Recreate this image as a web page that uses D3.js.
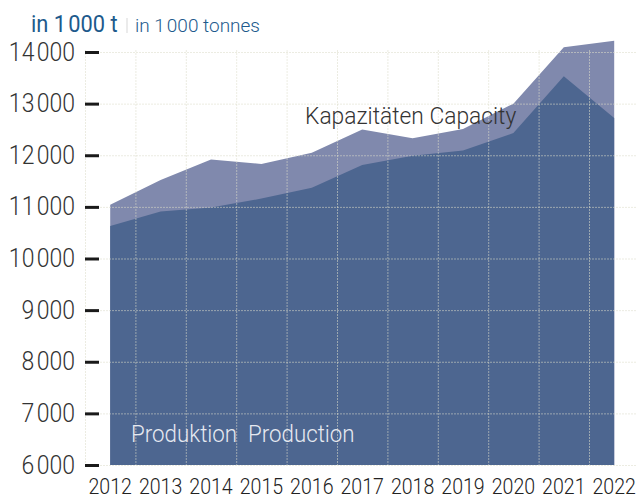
<!DOCTYPE html>
<html>
<head>
<meta charset="utf-8">
<script src="https://cdn.jsdelivr.net/npm/d3@7"></script>
<style>
  html, body { margin: 0; padding: 0; background: #fff; }
  svg { display: block; font-family: Roboto, "Noto Sans", sans-serif; }
</style>
</head>
<body>
<svg id="chart" width="636" height="499"></svg>
<script>
const years = ["2012","2013","2014","2015","2016","2017","2018","2019","2020","2021","2022"];
const capacity   = [11040, 11520, 11920, 11830, 12050, 12500, 12330, 12510, 13000, 14090, 14220];
const production = [10630, 10910, 10990, 11160, 11370, 11810, 11990, 12090, 12430, 13530, 12720];
const yTicks = [6000, 7000, 8000, 9000, 10000, 11000, 12000, 13000, 14000];

(function () {
const svg = d3.select("#chart");
const W = 636;
const mLeft = 85, step = 50.4, mTop = 52, mBottom = 465;

const x = d3.scaleBand().domain(years).range([mLeft, mLeft + step * years.length]).padding(0);
const cx = d => x(d) + x.bandwidth() / 2;
const y = d3.scaleLinear().domain([6000, 14000]).range([mBottom, mTop]);

const fmt = v => d3.format(",")(v).replace(",", "\u200A");
function condense(sel, s) {
  sel.each(function () {
    const t = d3.select(this);
    const tx = +t.attr("x") || 0, ty = +t.attr("y") || 0;
    t.attr("x", null).attr("y", null).attr("transform", `translate(${tx},${ty}) scale(${s},1)`);
  });
}

const data = years.map((yr, i) => ({ yr, cap: capacity[i], prod: production[i] }));

// Areas
svg.append("path").datum(data)
  .attr("fill", "#8089ad")
  .attr("d", d3.area().x(d => cx(d.yr)).y0(y(6000)).y1(d => y(d.cap)));
svg.append("path").datum(data)
  .attr("fill", "#4d6690")
  .attr("d", d3.area().x(d => cx(d.yr)).y0(y(6000)).y1(d => y(d.prod)));

// Grid
const grid = svg.append("g").attr("stroke", "#dcdccb").attr("stroke-opacity", 0.55)
  .attr("stroke-dasharray", "2,1").attr("stroke-width", 1);
grid.selectAll("line.h").data(yTicks).join("line").attr("class", "h")
  .attr("x1", mLeft).attr("x2", W).attr("y1", d => y(d) + 0.5).attr("y2", d => y(d) + 0.5);
grid.selectAll("line.v").data(years).join("line").attr("class", "v")
  .attr("x1", d => x(d) + 0.5).attr("x2", d => x(d) + 0.5).attr("y1", mTop - 2).attr("y2", mBottom);

// Y axis
const yAxis = svg.append("g").attr("transform", `translate(${mLeft + 14},0)`)
  .call(d3.axisLeft(y).tickValues(yTicks).tickSize(14).tickPadding(10).tickFormat(fmt));
yAxis.select(".domain").remove();
yAxis.selectAll(".tick line").attr("stroke", "#1a1a1a").attr("stroke-width", 3);
yAxis.selectAll(".tick text").attr("fill", "#333").attr("font-size", 25).attr("font-weight", 300)
  .attr("font-family", "Roboto");
condense(yAxis.selectAll(".tick text"), 0.92);

// X axis
const xAxis = svg.append("g").attr("transform", `translate(0,${mBottom})`)
  .call(d3.axisBottom(x).tickSize(0).tickPadding(14));
xAxis.select(".domain").remove();
xAxis.selectAll(".tick text").attr("fill", "#222").attr("font-size", 21.5).attr("font-weight", 300)
  .attr("font-family", "Roboto");
condense(xAxis.selectAll(".tick text"), 0.91);

// Title
const title = svg.append("g");
title.append("text").attr("transform", `translate(31,32) scale(0.95,1)`)
  .attr("fill", "#1d5a8c").attr("font-size", 23).attr("font-weight", 400)
  .text("in 1\u200A000 t");
title.append("line").attr("x1", 127).attr("x2", 127).attr("y1", 18).attr("y2", 33)
  .attr("stroke", "#e4e4e4").attr("stroke-width", 1.5);
title.append("text").attr("transform", `translate(135,32)`)
  .attr("fill", "#1d5a8c").attr("font-size", 19).attr("font-weight", 300)
  .text("in 1\u200A000 tonnes");

// Area labels
svg.append("text").attr("transform", `translate(305,124) scale(0.95,1)`)
  .attr("fill", "#333").attr("font-size", 24).attr("font-weight", 300)
  .text("Kapazitäten Capacity");
svg.append("text").attr("transform", `translate(131,442) scale(0.95,1)`)
  .attr("fill", "#e6e9f0").attr("font-size", 23.5).attr("font-weight", 300)
  .style("white-space", "pre")
  .text("Produktion  Production");
})();
</script>
</body>
</html>
